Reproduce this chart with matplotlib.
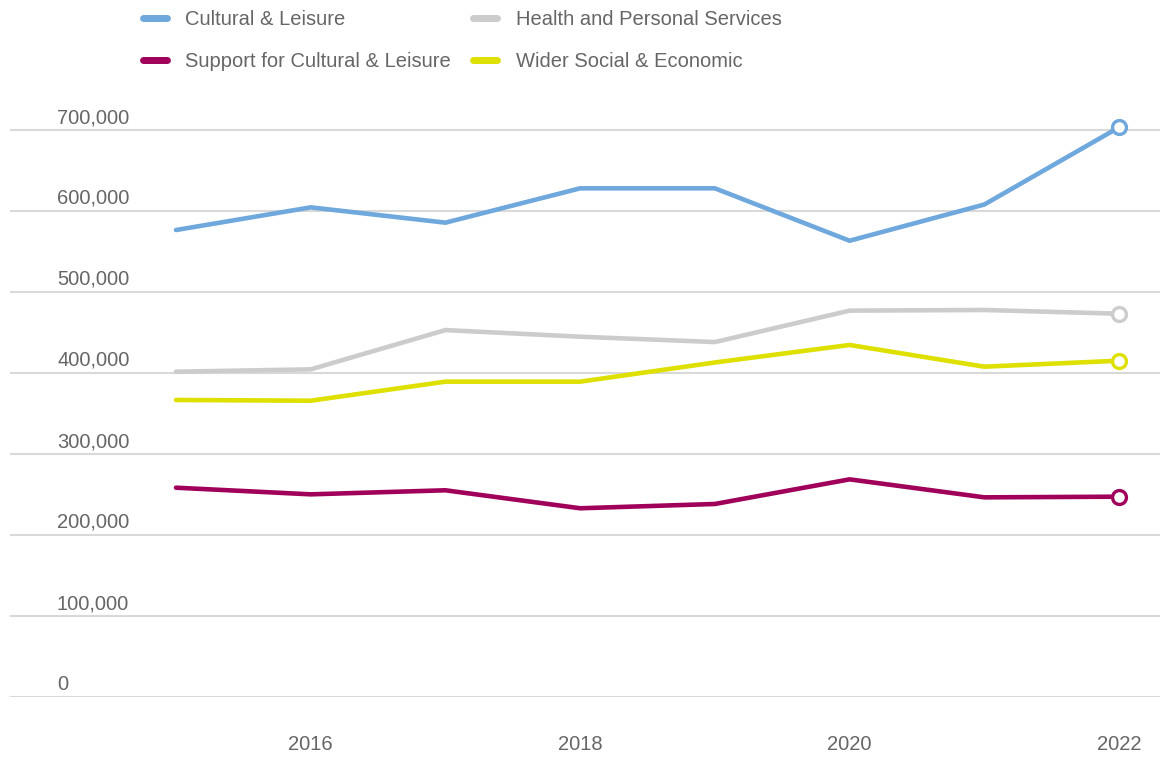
import matplotlib
matplotlib.use("Agg")
import matplotlib.pyplot as plt
from matplotlib.lines import Line2D
from matplotlib.transforms import blended_transform_factory, offset_copy

years = [2015, 2016, 2017, 2018, 2019, 2020, 2021, 2022]
cultural_leisure = [576500, 604500, 585600, 628000, 628000, 563300, 608000, 703300]
health_personal = [401600, 404500, 453000, 444800, 438200, 477000, 477800, 473200]
support_cultural = [258400, 250200, 255200, 233000, 238300, 268700, 246500, 247300]
wider_social = [366700, 365800, 389300, 389300, 413000, 434600, 407800, 415200]

series_names = ["Cultural & Leisure", "Health and Personal Services",
                "Support for Cultural & Leisure", "Wider Social & Economic"]
series_colors = ["#6FA8DC", "#CCCCCC", "#A0005A", "#DEE000"]
y_ticks = [0, 100000, 200000, 300000, 400000, 500000, 600000, 700000]
x_ticks = [2016, 2018, 2020, 2022]

plt.rcParams["font.family"] = ["Liberation Sans", "DejaVu Sans"]
text_color = "#666666"

W, H = 1160, 758
fig = plt.figure(figsize=(W / 100, H / 100), dpi=100)
ax_left, ax_right = 10 / W, 1.0
ax_bottom, ax_top = (H - 697) / H, (H - 89.5) / H
ax = fig.add_axes([ax_left, ax_bottom, ax_right - ax_left, ax_top - ax_bottom])

data = [cultural_leisure, health_personal, support_cultural, wider_social]
order = [1, 3, 2, 0]
for i in order:
    ax.plot(years, data[i], color=series_colors[i], lw=3.3,
            solid_capstyle="round", solid_joinstyle="miter",
            marker="o", markevery=[len(years) - 1], markersize=10,
            markerfacecolor="white", markeredgecolor=series_colors[i],
            markeredgewidth=2.4, label=series_names[i], zorder=3 + i)

ax.set_xlim(2013.768, 2022.304)
ax.set_ylim(0, 750000)
ax.set_yticks(y_ticks)
ax.set_yticklabels([])
ax.set_xticks(x_ticks)
ax.set_xticklabels([str(x) for x in x_ticks], fontsize=14.5, color=text_color)
ax.tick_params(axis="both", length=0)
ax.tick_params(axis="x", pad=27)
ax.grid(axis="y", color="#D9D9D9", lw=1.5, zorder=0)
ax.grid(axis="x", visible=False)
for s in ax.spines.values():
    s.set_visible(False)

# y labels sit just above their gridlines, inside the plot area
trans = blended_transform_factory(ax.transAxes, ax.transData)
trans = offset_copy(trans, fig=fig, x=0, y=7, units="dots")
for v in y_ticks:
    ax.text((57 - 10) / 1150, v, f"{v:,}", transform=trans, ha="left",
            va="baseline", fontsize=14.5, color=text_color)

leg_handles = [Line2D([], [], color=series_colors[i], lw=5, solid_capstyle="round")
               for i in [0, 2, 1, 3]]
leg_labels = [series_names[i] for i in [0, 2, 1, 3]]
leg = fig.legend(leg_handles, leg_labels, ncol=2, frameon=False,
                 loc="upper left", bbox_to_anchor=(135 / W, 1 - 2 / H),
                 fontsize=14.5, handlelength=1.2, handletextpad=0.9,
                 columnspacing=1.1, labelspacing=1.12, borderaxespad=0)
for t in leg.get_texts():
    t.set_color(text_color)

fig.savefig("out.png", dpi=100)
